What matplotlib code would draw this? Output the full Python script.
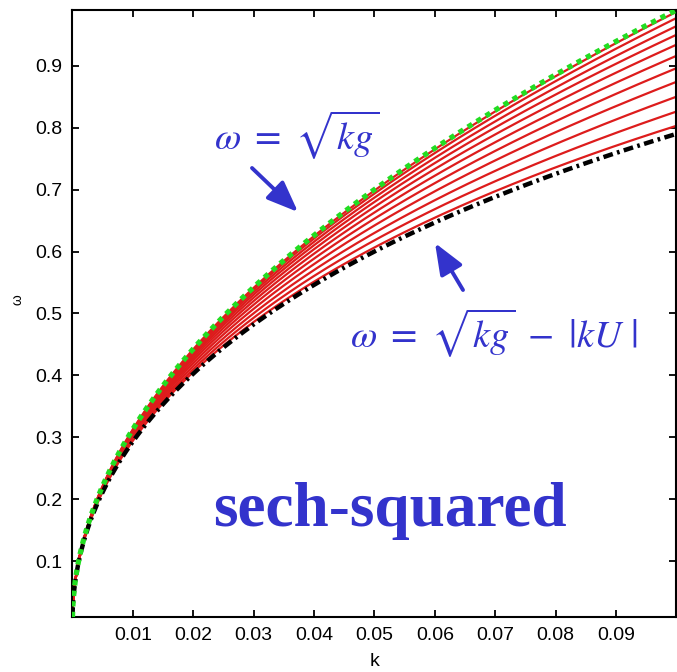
import numpy as np
import matplotlib
matplotlib.use("Agg")
import matplotlib.pyplot as plt

plt.rcParams["font.family"] = ["Liberation Sans", "DejaVu Sans"]
plt.rcParams["mathtext.fontset"] = "stix"

# deep-water dispersion with a sheared current
g = 9.8
k_min, k_max = 1e-5, 0.1
u_max = 2.0
u_modes = [0.03, 0.13, 0.26, 0.40, 0.56, 0.74, 0.94, 1.16, 1.40, 1.64, 1.87]

x_ticks = [0.01, 0.02, 0.03, 0.04, 0.05, 0.06, 0.07, 0.08, 0.09]
y_ticks = [0.1, 0.2, 0.3, 0.4, 0.5, 0.6, 0.7, 0.8, 0.9]

blue = "#3333cc"
W, H = 677, 672


def main():
    fig = plt.figure(figsize=(W / 100, H / 100), dpi=100)
    ax = fig.add_axes([72.4 / W, 1 - 617 / H, 604 / W, 607 / H])

    k = np.linspace(k_min, k_max, 3000)
    omega0 = np.sqrt(k * g)

    for u in u_modes:
        ax.plot(k, omega0 - k * u, color="#dd1c1c", lw=1.6, zorder=2)
    ax.plot(k, omega0 - np.abs(k * u_max), color="black", lw=3.2,
            ls=(0, (2.2, 1.0, 0.6, 1.0)), zorder=3)
    ax.plot(k, omega0, color="#22dd22", lw=3.8, ls=(0, (1.0, 1.0)), zorder=4)

    ax.set_xlim(0, k_max)
    ax.set_ylim(np.sqrt(k_min * g), np.sqrt(k_max * g))
    ax.set_xticks(x_ticks)
    ax.set_yticks(y_ticks)
    ax.set_xticklabels([f"{v:g}" for v in x_ticks])
    ax.set_yticklabels([f"{v:g}" for v in y_ticks])
    ax.tick_params(direction="in", length=5, width=1.3, labelsize=14,
                   top=True, right=True, pad=7)
    for s in ax.spines.values():
        s.set_linewidth(1.5)

    fig.text(375 / W, 1 - 662 / H, "k", fontsize=14, ha="center", va="center")
    fig.text(17 / W, 1 - 300 / H, "\u03c9", fontsize=10, rotation=90,
             ha="center", va="center")

    fig.text(214 / W, 1 - 149 / H, r"$\omega\ =\ \sqrt{kg}$",
             fontsize=27.5, color=blue, ha="left", va="baseline")
    fig.text(350 / W, 1 - 347 / H,
             r"$\omega\ =\ \sqrt{kg}\ -\ \left|kU\ \right|$",
             fontsize=27.5, color=blue, ha="left", va="baseline")
    fig.text(213 / W, 1 - 526 / H, "sech-squared", fontsize=45.5,
             family="Liberation Serif", weight="bold", color=blue,
             ha="left", va="baseline")

    arrow = dict(arrowstyle="-|>,head_width=0.4,head_length=1.0", color=blue,
                 lw=2.8, mutation_scale=19, shrinkA=0, shrinkB=0)
    ax.annotate("", xy=(298 / W, 1 - 212 / H), xytext=(252 / W, 1 - 168 / H),
                xycoords="figure fraction", textcoords="figure fraction",
                arrowprops=arrow)
    ax.annotate("", xy=(435 / W, 1 - 243 / H), xytext=(463 / W, 1 - 290 / H),
                xycoords="figure fraction", textcoords="figure fraction",
                arrowprops=arrow)

    fig.savefig("out.png", dpi=100)


if __name__ == "__main__":
    main()
